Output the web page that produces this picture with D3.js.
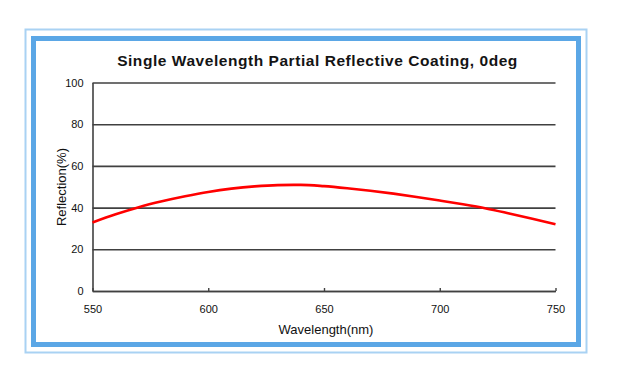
<!DOCTYPE html>
<html>
<head>
<meta charset="utf-8">
<script src="https://cdn.jsdelivr.net/npm/d3@7"></script>
<style>
  html, body { margin: 0; padding: 0; background: #fff; }
  svg { display: block; font-family: "Liberation Sans", Arial, sans-serif; }
</style>
</head>
<body>
<svg id="chart" width="618" height="384"></svg>
<script>
const wavelengths = [550, 560, 570, 580, 590, 600, 610, 620, 630, 640, 650, 660, 670, 680, 690, 700, 710, 720, 730, 740, 750];
const reflection  = [32.9, 36.8, 40.2, 43.0, 45.4, 47.5, 49.1, 50.2, 50.8, 50.9, 50.3, 49.3, 48.1, 46.7, 45.1, 43.4, 41.6, 39.6, 37.2, 34.7, 32.0];
const xTicks = [550, 600, 650, 700, 750];
const yTicks = [0, 20, 40, 60, 80, 100];
const titleText = "Single Wavelength Partial Reflective Coating, 0deg";
const xTitle = "Wavelength(nm)";
const yTitle = "Reflection(%)";

const svg = d3.select("#chart");

// frames
svg.append("rect").attr("x", 25.5).attr("y", 29.5).attr("width", 561).attr("height", 323)
  .attr("fill", "none").attr("stroke", "#a9d2f3").attr("stroke-width", 2);
svg.append("rect").attr("x", 33.5).attr("y", 38.5).attr("width", 545).attr("height", 306)
  .attr("fill", "none").attr("stroke", "#5ba7e6").attr("stroke-width", 5);

const pLeft = 92.5, pRight = 555.5, pTop = 82.5, pBottom = 291;
const x = d3.scaleLinear().domain([550, 750]).range([pLeft, pRight]);
const y = d3.scaleLinear().domain([0, 100]).range([pBottom, pTop]);

// title
svg.append("text").attr("x", 317.5).attr("y", 65.5).attr("text-anchor", "middle")
  .attr("font-size", 15.5).attr("font-weight", "bold").attr("fill", "#141414")
  .attr("letter-spacing", 0.55)
  .text(titleText);

// y gridlines + labels
const yAxis = d3.axisLeft(y).tickValues(yTicks).tickSize(-(pRight - pLeft)).tickSizeOuter(0).tickPadding(9);
const gy = svg.append("g").attr("transform", `translate(${pLeft},0)`).call(yAxis);
gy.select(".domain").attr("stroke", "#404040").attr("stroke-width", 1.6);
gy.selectAll(".tick line").attr("stroke", "#404040").attr("stroke-width", 1.6);
gy.selectAll(".tick text").attr("font-size", 11).attr("fill", "#111")
  .attr("font-family", "Liberation Sans, Arial, sans-serif");

// x axis
const xAxis = d3.axisBottom(x).tickValues(xTicks).tickSize(-3).tickSizeOuter(0).tickPadding(14);
const gx = svg.append("g").attr("transform", `translate(0,${pBottom})`).call(xAxis);
gx.select(".domain").attr("stroke", "#404040").attr("stroke-width", 1.6);
gx.selectAll(".tick line").attr("stroke", "#404040").attr("stroke-width", 1.4);
gx.selectAll(".tick text").attr("font-size", 11).attr("fill", "#111")
  .attr("font-family", "Liberation Sans, Arial, sans-serif");

// axis titles
svg.append("text").attr("x", 326).attr("y", 334).attr("text-anchor", "middle")
  .attr("font-size", 13).attr("fill", "#111").text(xTitle);
svg.append("text").attr("transform", "translate(66,187) rotate(-90)").attr("text-anchor", "middle")
  .attr("font-size", 13).attr("fill", "#111").text(yTitle);

// curve
const line = d3.line().x((d, i) => x(wavelengths[i])).y(d => y(d)).curve(d3.curveMonotoneX);
svg.append("path").datum(reflection).attr("d", line)
  .attr("fill", "none").attr("stroke", "#ff0000").attr("stroke-width", 2.6);
</script>
</body>
</html>
